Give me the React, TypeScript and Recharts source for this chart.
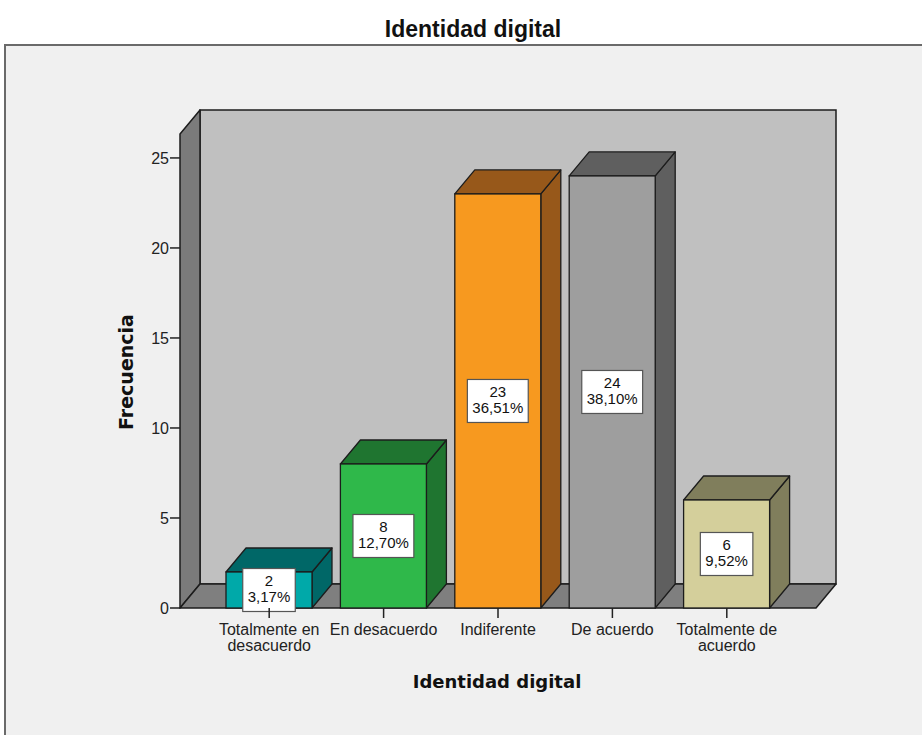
import { Bar, BarChart, XAxis, YAxis } from "recharts";

const categories = [
  "Totalmente en desacuerdo",
  "En desacuerdo",
  "Indiferente",
  "De acuerdo",
  "Totalmente de acuerdo",
];
const tickLines = [
  ["Totalmente en", "desacuerdo"],
  ["En desacuerdo"],
  ["Indiferente"],
  ["De acuerdo"],
  ["Totalmente de", "acuerdo"],
];
const frecuencias = [2, 8, 23, 24, 6];
const porcentajes = ["3,17%", "12,70%", "36,51%", "38,10%", "9,52%"];
const yTicks = [0, 5, 10, 15, 20, 25];
const Y_MAX = 26.33;

const frontColors = ["#00a9a9", "#2fb84a", "#f7991f", "#9e9e9e", "#d4cf9b"];
const darkColors = ["#006767", "#1f7530", "#97581a", "#5f5f5f", "#807e5c"];

const data = categories.map((name, i) => ({
  name,
  frecuencia: frecuencias[i],
  porcentaje: porcentajes[i],
}));

// layout
const W = 922;
const H = 735;
const PLOT = { left: 180, top: 134, right: 816, bottom: 608 };
const DX = 20;
const DY = 24;
const SANS = "'Liberation Sans', Arial, sans-serif";
const BOLD = "'DejaVu Sans', Verdana, sans-serif";
const EDGE = "#1c1c1c";
const LABEL_FONT = 15;

const charW: Record<string, number> = { ",": 0.278, "%": 0.889 };
function textWidth(s: string, size: number) {
  return [...s].reduce((a, c) => a + (charW[c] ?? 0.556), 0) * size;
}

function Bar3D(props: any) {
  const { x, y, width, height, payload } = props;
  const i = categories.indexOf(payload.name);
  const top = `${x},${y} ${x + DX},${y - DY} ${x + width + DX},${y - DY} ${x + width},${y}`;
  const side = `${x + width},${y} ${x + width + DX},${y - DY} ${x + width + DX},${y + height - DY} ${x + width},${y + height}`;
  const cx = x + width / 2;
  const cy = y + height / 2;
  const boxW =
    Math.max(
      textWidth(payload.porcentaje, LABEL_FONT),
      textWidth(String(payload.frecuencia), LABEL_FONT)
    ) + 10;
  return (
    <g>
      <polygon points={side} fill={darkColors[i]} stroke={EDGE} strokeWidth={1.3} strokeLinejoin="round" />
      <polygon points={top} fill={darkColors[i]} stroke={EDGE} strokeWidth={1.3} strokeLinejoin="round" />
      <rect x={x} y={y} width={width} height={height} fill={frontColors[i]} stroke={EDGE} strokeWidth={1.3} />
      <rect x={cx - boxW / 2} y={cy - 21.5} width={boxW} height={43} fill="#ffffff" stroke="#555" strokeWidth={1.2} />
      <text x={cx} y={cy - 3.5} textAnchor="middle" fontSize={LABEL_FONT} fontFamily={SANS} fill="#111">
        {payload.frecuencia}
      </text>
      <text x={cx} y={cy + 12.5} textAnchor="middle" fontSize={LABEL_FONT} fontFamily={SANS} fill="#111">
        {payload.porcentaje}
      </text>
    </g>
  );
}

function XTick(props: any) {
  const { x, y, payload } = props;
  const i = categories.indexOf(payload.value);
  const lines = tickLines[i] ?? [payload.value];
  return (
    <text x={x} y={y + 15} textAnchor="middle" fontSize={16} fontFamily={SANS} fill="#222">
      {lines.map((l, k) => (
        <tspan key={k} x={x} dy={k === 0 ? 0 : 16}>
          {l}
        </tspan>
      ))}
    </text>
  );
}

function Backdrop() {
  const { left, top, right, bottom } = PLOT;
  return (
    <svg width={W} height={H} style={{ position: "absolute", left: 0, top: 0 }}>
      <rect x={0} y={0} width={W} height={H} fill="#ffffff" />
      <rect x={5} y={45} width={W + 20} height={H} fill="#f0f0f0" stroke="#6a6a6a" strokeWidth={2} />
      <text x={473} y={37} textAnchor="middle" fontSize={23} fontWeight="bold" fontFamily={SANS} fill="#111">
        Identidad digital
      </text>
      {/* back wall */}
      <polygon
        points={`${left + DX},${top - DY} ${right + DX},${top - DY} ${right + DX},${bottom - DY} ${left + DX},${bottom - DY}`}
        fill="#c0c0c0"
        stroke={EDGE}
        strokeWidth={1.5}
      />
      {/* left wall */}
      <polygon
        points={`${left},${top} ${left + DX},${top - DY} ${left + DX},${bottom - DY} ${left},${bottom}`}
        fill="#7b7b7b"
        stroke={EDGE}
        strokeWidth={1.5}
        strokeLinejoin="round"
      />
      {/* floor */}
      <polygon
        points={`${left},${bottom} ${left + DX},${bottom - DY} ${right + DX},${bottom - DY} ${right},${bottom}`}
        fill="#7f7f7f"
        stroke={EDGE}
        strokeWidth={1.5}
        strokeLinejoin="round"
      />
      <text
        x={133}
        y={372}
        transform="rotate(-90 133 372)"
        textAnchor="middle"
        fontSize={19}
        fontWeight="bold"
        fontFamily={BOLD}
        fill="#111"
      >
        Frecuencia
      </text>
      <text x={497} y={688} textAnchor="middle" fontSize={18} fontWeight="bold" fontFamily={BOLD} fill="#111">
        Identidad digital
      </text>
    </svg>
  );
}

export default function App() {
  return (
    <div style={{ position: "absolute", left: 0, top: 0, width: W, height: H, overflow: "hidden" }}>
      <Backdrop />
      <div style={{ position: "absolute", left: 0, top: 0 }}>
        <BarChart
          width={W}
          height={H}
          data={data}
          margin={{ top: PLOT.top, right: W - PLOT.right, bottom: 0, left: 0 }}
          barSize={86}
        >
          <XAxis
            dataKey="name"
            height={H - PLOT.bottom}
            padding={{ left: 32, right: 32 }}
            axisLine={false}
            tickSize={10}
            tickLine={{ stroke: "#222", strokeWidth: 1.5 }}
            tick={<XTick />}
            interval={0}
          />
          <YAxis
            type="number"
            domain={[0, Y_MAX]}
            ticks={yTicks}
            width={PLOT.left}
            axisLine={false}
            tickSize={10}
            tickMargin={1}
            tickLine={{ stroke: "#222", strokeWidth: 1.5 }}
            tick={{ fill: "#222", fontSize: 16, fontFamily: SANS }}
          />
          <Bar dataKey="frecuencia" shape={<Bar3D />} isAnimationActive={false} />
        </BarChart>
      </div>
    </div>
  );
}
